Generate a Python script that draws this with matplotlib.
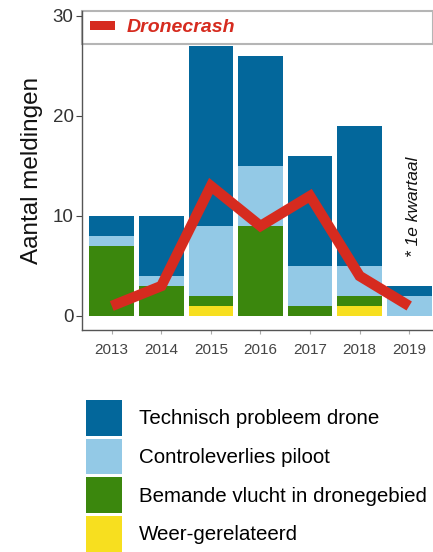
import matplotlib
matplotlib.use("Agg")
import matplotlib.pyplot as plt
from matplotlib.patches import Patch
import numpy as np

plt.rcParams["font.family"] = ["Liberation Sans", "DejaVu Sans"]

years = [2013, 2014, 2015, 2016, 2017, 2018, 2019]
weer = [0, 0, 1, 0, 0, 1, 0]
bemande = [7, 3, 1, 9, 1, 1, 0]
controle = [1, 1, 7, 6, 4, 3, 2]
technisch = [2, 6, 18, 11, 11, 14, 1]
dronecrash = [1, 3, 13, 9, 12, 4, 1]

labels = ["Technisch probleem drone", "Controleverlies piloot",
          "Bemande vlucht in dronegebied", "Weer-gerelateerd"]
c_tech = "#03679b"
c_ctrl = "#93c9e6"
c_bem = "#3b870d"
c_weer = "#f7df1f"
c_red = "#d62b1f"

W, H = 433, 552
fig = plt.figure(figsize=(W / 100, H / 100), dpi=100)
ax_l, ax_r, ax_t, ax_b = 82, 433, 11, 330
ax = fig.add_axes([ax_l / W, 1 - ax_b / H, (ax_r - ax_l) / W, (ax_b - ax_t) / H])

x = np.array(years)
bw = 0.9
b = np.zeros(len(years))
for vals, col in [(weer, c_weer), (bemande, c_bem), (controle, c_ctrl), (technisch, c_tech)]:
    ax.bar(x, vals, bw, bottom=b, color=col, edgecolor="none", zorder=2)
    b += np.array(vals)

ax.plot(x, dronecrash, color=c_red, lw=7.5, solid_joinstyle="miter", solid_capstyle="butt",
        zorder=5)

ax.set_xlim(2012.4, 2019.48)
ax.set_ylim(-1.4, 30.5)
ax.set_yticks([0, 10, 20, 30])
ax.set_xticks(years)
ax.tick_params(axis="y", labelsize=13.5, colors="#444444", length=4, width=0.8, pad=2)
ax.tick_params(axis="x", labelsize=11, colors="#aaaaaa", length=3, width=0.8, pad=6)
for lab in ax.get_yticklabels():
    lab.set_color("#333333")
for lab in ax.get_xticklabels():
    lab.set_color("#444444")
for s in ["top", "right"]:
    ax.spines[s].set_visible(False)
for s in ["left", "bottom"]:
    ax.spines[s].set_color("#555555")
    ax.spines[s].set_linewidth(1.0)
ax.set_ylabel("Aantal meldingen", fontsize=17.5, color="#111111", labelpad=7)

ax.text(2019.09, 10.9, "* 1e kwartaal", rotation=90, style="italic", fontsize=12.5,
        ha="center", va="center", color="#111111", zorder=6)

leg1 = ax.legend([Patch(facecolor=c_red, edgecolor="none")], ["Dronecrash"],
                 loc="upper left", bbox_to_anchor=(0, 0, 1, 1), mode="expand",
                 borderaxespad=0, handlelength=1.3, handleheight=0.34,
                 handletextpad=0.6, fancybox=False, framealpha=1,
                 edgecolor="#b5b5b5", prop={"size": 14, "style": "italic", "weight": "bold"},
                 borderpad=0.42)
leg1.set_zorder(1)
for t in leg1.get_texts():
    t.set_color(c_red)
leg1.get_frame().set_linewidth(1.5)

handles = [Patch(facecolor=c, edgecolor="none") for c in [c_tech, c_ctrl, c_bem, c_weer]]
fig.legend(handles, labels, loc="upper left", bbox_to_anchor=(86 / W, 1 - 400 / H),
           frameon=False, fontsize=14.8, handlelength=1.75, handleheight=2.3,
           labelspacing=0.14, handletextpad=0.84, borderpad=0, borderaxespad=0)

fig.savefig("out.png", dpi=100)
